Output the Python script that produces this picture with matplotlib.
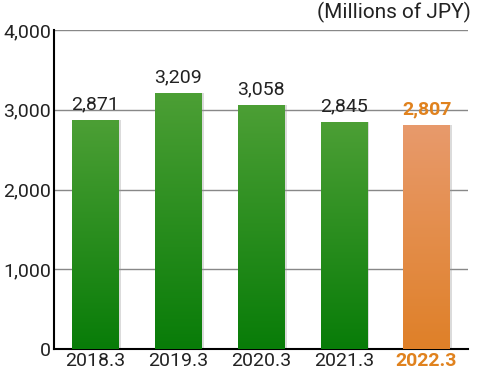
import numpy as np
import matplotlib
matplotlib.use("Agg")
import matplotlib.pyplot as plt
from matplotlib.colors import LinearSegmentedColormap

plt.rcParams['font.family'] = ['Roboto', 'DejaVu Sans']

# data
years = ["2018.3", "2019.3", "2020.3", "2021.3", "2022.3"]
values = [2871, 3209, 3058, 2845, 2807]
labels = ["2,871", "3,209", "3,058", "2,845", "2,807"]
yticks = [0, 1000, 2000, 3000, 4000]
ytick_labels = ["0", "1,000", "2,000", "3,000", "4,000"]

green_cm = LinearSegmentedColormap.from_list("g", ["#087c08", "#4c9f35"])
orange_cm = LinearSegmentedColormap.from_list("o", ["#df8028", "#e89a6c"])
highlight = "#e0821e"
txt = "#222222"

fig = plt.figure(figsize=(4.8, 3.76), dpi=100)
ax = fig.add_axes([0.1125, 0.072, 0.8625, 0.848])

x = np.arange(len(years))
bw = 0.56
bars = ax.bar(x, values, width=bw, color="none", zorder=3)
grad = np.linspace(0, 1, 256).reshape(-1, 1)
for i, b in enumerate(bars):
    cm = orange_cm if i == len(bars) - 1 else green_cm
    # soft shadow at right side
    ax.bar(x[i] + 0.03, values[i], width=bw, color="#999999", alpha=0.35, zorder=2)
    im = ax.imshow(grad, cmap=cm, aspect="auto", origin="lower",
                   extent=[b.get_x(), b.get_x() + b.get_width(), 0, values[i]], zorder=3)
    im.set_clip_path(b)

for i, v in enumerate(values):
    last = i == len(values) - 1
    ax.text(x[i], v + 90, labels[i], ha="center", va="bottom",
            fontsize=14, color=highlight if last else txt,
            fontweight="bold" if last else "normal", zorder=4)

ax.set_xlim(-0.5, 4.5)
ax.set_ylim(0, 4000)
ax.set_yticks(yticks)
ax.set_yticklabels(ytick_labels, fontsize=14, color=txt)
ax.set_xticks(x)
ax.set_xticklabels(years, fontsize=14, color=txt)
ax.get_xticklabels()[-1].set_color(highlight)
ax.get_xticklabels()[-1].set_fontweight("bold")
ax.tick_params(length=0, pad=2)
ax.yaxis.grid(True, color="#888888", linewidth=1, zorder=0)
ax.set_axisbelow(True)
for s in ["top", "right"]:
    ax.spines[s].set_visible(False)
ax.spines["left"].set_linewidth(1.5)
ax.spines["bottom"].set_linewidth(1.5)

fig.text(0.98, 0.995, "(Millions of JPY)", ha="right", va="top", fontsize=15, color=txt)

fig.savefig("out.png", dpi=100)
